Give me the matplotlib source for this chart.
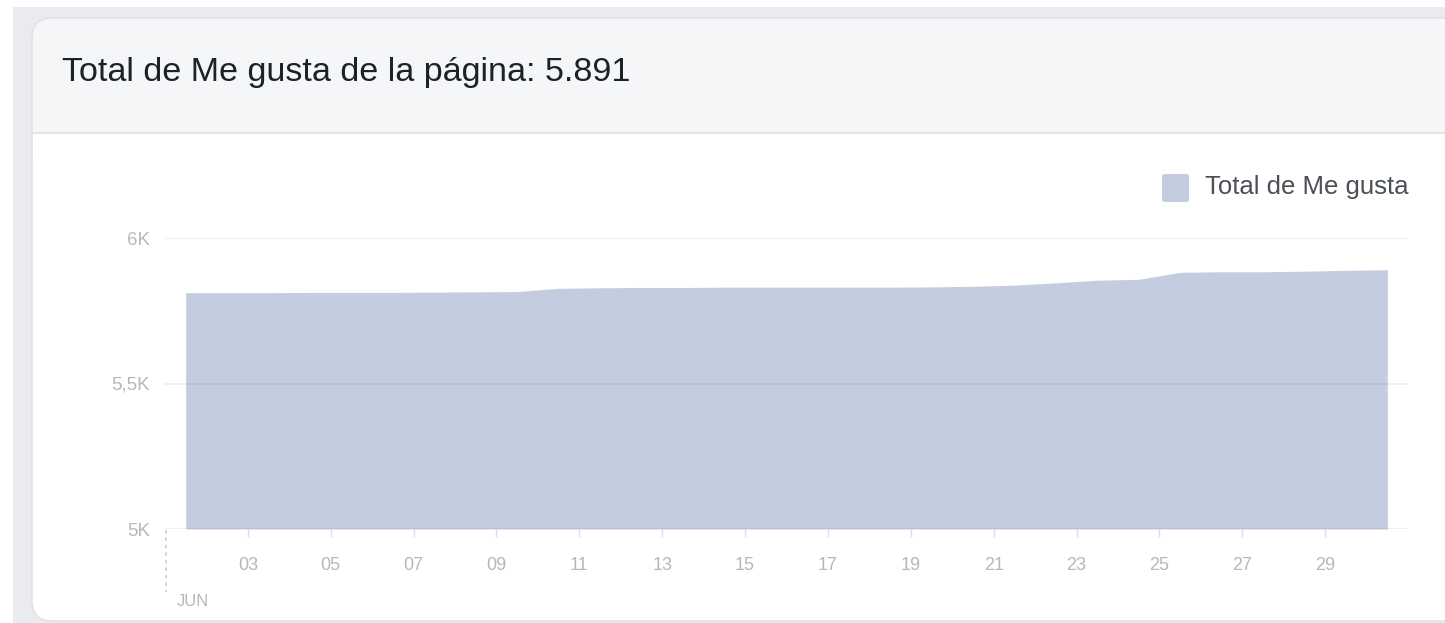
import numpy as np
import matplotlib
matplotlib.use('Agg')
import matplotlib.pyplot as plt
from matplotlib.patches import FancyBboxPatch, Rectangle

plt.rcParams['font.family'] = ['Liberation Sans', 'DejaVu Sans']

# daily total page likes, June (points sit at mid-day)
days = list(range(1, 31))
likes = [5812, 5812, 5812, 5813, 5813, 5813, 5814, 5815, 5816, 5827,
         5829, 5830, 5830, 5831, 5831, 5831, 5831, 5831, 5832, 5834,
         5838, 5846, 5855, 5858, 5882, 5884, 5884, 5886, 5889, 5891]
tick_days = list(range(3, 30, 2))
tick_labels = ['%02d' % d for d in tick_days]
y_ticks = [5000, 5500, 6000]
y_labels = ['5K', '5,5K', '6K']

W, H = 1445, 623
FILL = '#c4cde0'
TICK_TXT = '#b4b8bf'
BORDER = '#dddfe2'

fig = plt.figure(figsize=(W / 100, H / 100), dpi=100)
fig.patch.set_facecolor('white')


def fx(px):
    return px / W


def fy(py):
    return 1 - py / H


def rbox(x0, y0, x1, y1, face, edge='none', z=1):
    # rounded box given in pixel coords (top-left, bottom-right)
    p = FancyBboxPatch((fx(x0), fy(y1)), fx(x1 - x0), fy(y0) - fy(y1),
                       boxstyle='round,pad=0,rounding_size=0.014',
                       mutation_aspect=W / H, transform=fig.transFigure,
                       facecolor=face, edgecolor=edge, linewidth=1, zorder=z)
    fig.patches.append(p)


# page background + card
fig.patches.append(Rectangle((fx(13), 0), 1, fy(7), transform=fig.transFigure,
                             facecolor='#e9ebee', edgecolor='none', zorder=0))
rbox(32, 18, 1500, 621, 'white', z=1)
rbox(32, 18, 1500, 180, '#f5f6f7', z=2)
fig.patches.append(Rectangle((fx(32.5), fy(200)), 1, fy(133) - fy(200), transform=fig.transFigure,
                             facecolor='white', edgecolor='none', zorder=2.5))
rbox(32, 18, 1500, 621, 'none', BORDER, z=3)
fig.lines.append(plt.Line2D([fx(32), 1], [fy(133), fy(133)], transform=fig.transFigure,
                            color=BORDER, linewidth=1.2, zorder=3))

fig.text(fx(62), fy(72), 'Total de Me gusta de la página: 5.891', fontsize=24.6,
         color='#1d2129', va='center', ha='left', zorder=4)

# chart
ax = fig.add_axes([fx(165), fy(529), fx(1408 - 165), fy(238) - fy(529)])
ax.set_zorder(5)
ax.patch.set_alpha(0)
x = np.array(days) + 0.5
ax.fill_between(x, 5000, likes, color=FILL, linewidth=0, zorder=2)
ax.set_xlim(1, 31)
ax.set_ylim(5000, 6000)
for s in ax.spines.values():
    s.set_visible(False)
for v in y_ticks:
    ax.axhline(v, color='#6b7280', alpha=0.13, linewidth=1.2, zorder=3)
ax.set_yticks(y_ticks)
ax.set_yticklabels(y_labels)
ax.tick_params(axis='y', length=0, pad=11, labelsize=13.5, labelcolor=TICK_TXT)
ax.set_xticks(tick_days)
ax.set_xticklabels(tick_labels)
ax.tick_params(axis='x', length=6, width=1, color=BORDER, pad=14,
               labelsize=13, labelcolor=TICK_TXT)

# month marker
fig.lines.append(plt.Line2D([fx(166), fx(166)], [fy(530), fy(592)], transform=fig.transFigure,
                            color='#c8ccd2', linewidth=1.2, linestyle=(0, (2, 2.5)), zorder=6))
fig.text(fx(177), fy(602), 'JUN', fontsize=12, color=TICK_TXT, va='center', ha='left', zorder=6)

# legend
fig.patches.append(FancyBboxPatch((fx(1162), fy(202)), fx(27), fy(174) - fy(202),
                                  boxstyle='round,pad=0,rounding_size=0.003',
                                  transform=fig.transFigure, facecolor=FILL,
                                  edgecolor='none', zorder=6))
fig.text(fx(1205), fy(187), 'Total de Me gusta', fontsize=18.5, color='#4b4f56',
         va='center', ha='left', zorder=6)

fig.savefig('out.png', dpi=100, facecolor=fig.get_facecolor())
